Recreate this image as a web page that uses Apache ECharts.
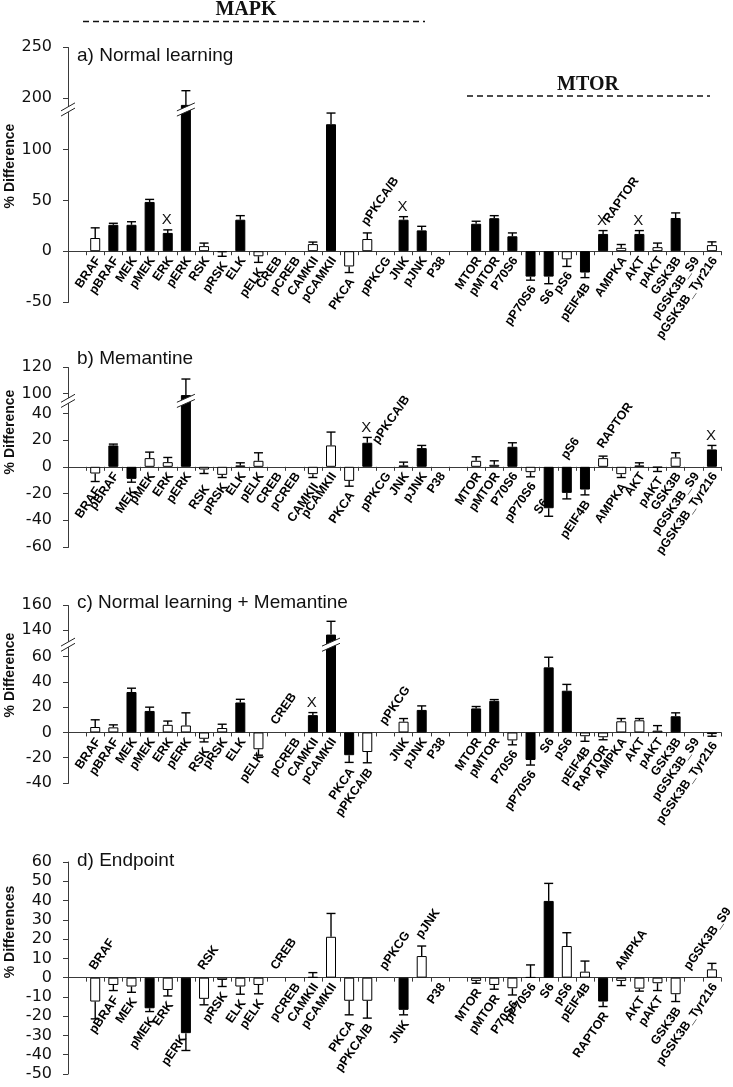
<!DOCTYPE html>
<html><head><meta charset="utf-8">
<script src="https://cdn.jsdelivr.net/npm/echarts@6.0.0/dist/echarts.min.js"></script>
<style>html,body{margin:0;padding:0;background:#fff}#chart{width:733px;height:1087px}</style>
</head><body><div id="chart"></div>
<script>
// ---------------- DATA ----------------
const categories = [' ', 'BRAF','pBRAF','MEK','pMEK','ERK','pERK','RSK','pRSK','ELK','pELK','CREB','pCREB','CAMKII','pCAMKII','PKCA','pPKCA/B','pPKCG','JNK','pJNK','P38','  ',
  'MTOR','pMTOR','P70S6','pP70S6','S6','pS6','pEIF4B','RAPTOR','AMPKA','AKT','pAKT','GSK3B','pGSK3B_S9','pGSK3B_Tyr216'];

// a) Normal learning
const aValues = [null, 13, 26, 26, 48.5, 18, 193, 5, -1, 31, -5, null, null, 7, 125, -15, 12, null, 31, 20.5, null, null, 27, 32.5, 14.7, -25, -25, -8, -21, 17, 3.3, 17, 4, 32.7, null, 6];
const aErrors = [null, 10, 1.5, 3, 2.5, 3, 14, 3, 4, 4, 6, null, null, 2, 11, 6, 6, null, 3, 4, null, null, 2.5, 2.5, 3.3, 3.5, 7, 7, 5, 3.3, 3.3, 3.3, 4, 5, null, 3.2];
const aSignificant = [0,0,1,1,1,1,1,0,0,1,0,0,0,0,1,0,0,0,1,1,0,0,1,1,1,1,1,0,1,1,0,1,0,1,0,0];
const aMarked = ['ERK','JNK','RAPTOR','AKT'];
const aTickLabels = [-50, 0, 50, 100, 200, 250];
const aBreak = [137, 191];

// b) Memantine
const bValues = [null, -5, 16, -9, 6.5, 3.5, 99, -2, -6, 1, 4.5, null, null, -5.5, 16, -10.5, 18, null, 1, 14, null, null, 4.5, 1.5, 15, -4, -31, -19.5, -17, 6.5, -5.5, 1, -0.5, 7, null, 13];
const bErrors = [null, 6, 1, 2.5, 4.5, 3.5, 12, 3, 2, 2, 6, null, null, 2.5, 10, 4, 4, null, 2.5, 2, null, null, 3, 3, 3, 3.5, 6, 4.5, 4, 1.5, 2.5, 2, 3, 3.5, null, 3];
const bSignificant = [0,0,1,1,0,0,1,0,0,0,0,0,0,0,0,0,1,0,0,1,0,0,0,0,1,0,1,1,1,0,0,0,0,0,0,1];
const bMarked = ['pPKCA/B','pGSK3B_Tyr216'];
const bTickLabels = [-60, -40, -20, 0, 20, 40, 100, 120];
const bBreak = [48, 96];

// c) Normal learning + Memantine
const cValues = [null, 4.3, 4, 32, 17, 6, 5.5, -5, 3.5, 23.7, -13.3, null, null, 13.7, 136.6, -18, -15.5, null, 8.5, 17.8, null, null, 19, 25, -6.3, -21.8, 51.5, 33, -3, -3.8, 8.8, 9.6, 1.4, 12.8, null, -1.3];
const cErrors = [null, 5.7, 2, 3, 3, 3, 10, 2.5, 3, 2.5, 4.7, null, null, 2, 10.5, 5.7, 8.5, null, 2.5, 3.2, null, null, 1.5, 1, 3.5, 4, 8, 5, 4, 2, 2.2, 1.4, 4, 2.7, null, 1.7];
const cSignificant = [0,0,0,1,1,0,0,0,0,1,0,0,0,1,1,1,0,0,0,1,0,0,1,1,0,1,1,1,0,0,0,0,0,1,0,0];
const cMarked = ['CAMKII'];
const cTickLabels = [-40, -20, 0, 20, 40, 60, 140, 160];
const cBreak = [68, 130];

// d) Endpoint
const dValues = [null, -12.4, -3.8, -4.6, -15.9, -6.4, -28.8, -11, -1.2, -4.6, -3.8, null, null, 0.3, 21.2, -12, -12, null, -16.7, 11.2, null, null, -1.7, -3.8, -5.5, 0.2, 39.8, 16.4, 3.1, -12.4, -1.7, -5.7, -2.9, -8.6, null, 4.3];
const dErrors = [null, 9, 2.9, 3, 1.7, 3.1, 9, 3.1, 3.4, 4, 4.6, null, null, 2.3, 12.1, 7.3, 9, null, 2.6, 5.2, null, null, 1.2, 2.2, 3.5, 6.4, 9.1, 6.9, 5.5, 2.6, 2.4, 1.3, 3.8, 3.8, null, 3.1];
const dSignificant = [0,0,0,0,1,0,1,0,0,0,0,0,0,0,0,0,0,0,1,0,0,0,0,0,0,0,1,0,0,1,0,0,0,0,0,0];
const dMarked = [];
const dTickLabels = [-50, -40, -30, -20, -10, 0, 10, 20, 30, 40, 50, 60];
const dBreak = null;

// ---------------- LAYOUT ----------------
const aLabelAbove = ['pPKCA/B','RAPTOR'];
const bLabelAbove = ['pPKCA/B','pS6','RAPTOR'];
const cLabelAbove = ['CREB','pPKCG'];
const dLabelAbove = ['BRAF','RSK','CREB','pPKCG','pJNK','AMPKA','pGSK3B_S9'];
const aLabelNudge = {RAPTOR: [6, 0]};
const bLabelNudge = {'pPKCA/B': [11, 14], S6: [-6, -23], RSK: [0, 6]};
const cLabelNudge = {pELK: [0, -8]};
const dLabelNudge = {pERK: [-5, -21], pGSK3B_S9: [-4, 0]};

const panels = [
  {values:aValues, errors:aErrors, sig:aSignificant, marked:aMarked, ticks:aTickLabels, brk:aBreak, above:aLabelAbove, nudge:aLabelNudge,
   top:47, height:255, title:'a) Normal learning', titleY:57, yName:'% Difference', yNameY:166},
  {values:bValues, errors:bErrors, sig:bSignificant, marked:bMarked, ticks:bTickLabels, brk:bBreak, above:bLabelAbove, nudge:bLabelNudge,
   top:367, height:180, title:'b) Memantine', titleY:360, yName:'% Difference', yNameY:432},
  {values:cValues, errors:cErrors, sig:cSignificant, marked:cMarked, ticks:cTickLabels, brk:cBreak, above:cLabelAbove, nudge:cLabelNudge,
   top:605, height:178, title:'c) Normal learning + Memantine', titleY:604, yName:'% Difference', yNameY:675},
  {values:dValues, errors:dErrors, sig:dSignificant, marked:dMarked, ticks:dTickLabels, brk:dBreak, above:dLabelAbove, nudge:dLabelNudge,
   top:862, height:212, title:'d) Endpoint', titleY:862, yName:'% Differences', yNameY:932}
];

const SANS = '"Liberation Sans", Arial, sans-serif';
const AXIS_COLOR = '#3a3a3a';
const LABEL_ROT = 55 * Math.PI / 180;

function renderErr(params, api) {
  const i = api.value(0), v = api.value(1), e = api.value(2);
  const end = v >= 0 ? v + e : v - e;
  const p0 = api.coord([i, v]), p1 = api.coord([i, end]);
  const cap = 4.5;
  return {type:'group', children:[
    {type:'line', shape:{x1:p0[0], y1:p0[1], x2:p1[0], y2:p1[1]}, style:{stroke:'#000', lineWidth:1.4}},
    {type:'line', shape:{x1:p1[0]-cap, y1:p1[1], x2:p1[0]+cap, y2:p1[1]}, style:{stroke:'#000', lineWidth:1.4}}
  ]};
}
function renderMark(params, api) {
  const i = api.value(0), v = api.value(1), e = api.value(2);
  const p = api.coord([i, v + e]);
  return {type:'text', x:p[0] - 1, y:p[1] - 10, style:{text:'X', font:'15px ' + SANS, fill:'#111',
    align:'center', verticalAlign:'middle', textAlign:'center', textVerticalAlign:'middle'}};
}
function renderLabel(params, api) {
  const i = api.value(0), v = api.value(1), e = api.value(2), above = api.value(3);
  const dx = api.value(4), dy = api.value(5);
  let ref;
  if (above) ref = v > 0 ? v + e : 0; else ref = v < 0 ? v - e : 0;
  const p = api.coord([i, ref]);
  const al = above ? 'left' : 'right';
  return {type:'text', x:p[0] + (above ? -3 : 3) + dx, y:p[1] + (above ? -9 : 7) + dy, rotation:LABEL_ROT,
    style:{text:categories[i], font:'bold 12.5px ' + SANS, fill:'#000',
      align:al, verticalAlign:'middle', textAlign:al, textVerticalAlign:'middle'}};
}
function renderBreak(params, api) {
  const i = api.value(0), s = api.value(1), t = api.value(2), isAxis = api.value(3);
  const ys = api.coord([i, s])[1], yt = api.coord([i, t])[1];
  const ym = (ys + yt) / 2;
  const cx = isAxis ? params.coordSys.x : api.coord([i, 0])[0];
  const hw = isAxis ? 7 : 9, rise = 4, half = 2.6;
  const l1 = [[cx-hw, ym+half+rise], [cx+hw, ym+half-rise]];
  const l2 = [[cx-hw, ym-half+rise], [cx+hw, ym-half-rise]];
  return {type:'group', children:[
    {type:'polygon', shape:{points:[l1[0], l1[1], l2[1], l2[0]]}, style:{fill:'#fff'}},
    {type:'line', shape:{x1:l1[0][0], y1:l1[0][1], x2:l1[1][0], y2:l1[1][1]}, style:{stroke:'#222', lineWidth:1}},
    {type:'line', shape:{x1:l2[0][0], y1:l2[0][1], x2:l2[1][0], y2:l2[1][1]}, style:{stroke:'#222', lineWidth:1}}
  ]};
}

const option = {animation:false, backgroundColor:'#fff', grid:[], xAxis:[], yAxis:[], series:[], graphic:[]};

panels.forEach((p, gi) => {
  const min = p.ticks[0], max = p.ticks[p.ticks.length - 1];
  const interval = p.ticks[1] - p.ticks[0];
  option.grid.push({left:68, top:p.top, width:653, height:p.height, containLabel:false});
  option.xAxis.push({type:'category', gridIndex:gi, data:categories, boundaryGap:true,
    axisLine:{onZero:true, lineStyle:{color:AXIS_COLOR, width:1}},
    axisTick:{show:true, length:4, interval:0, alignWithLabel:false, lineStyle:{color:AXIS_COLOR}},
    axisLabel:{show:false}, splitLine:{show:false}});
  const y = {type:'value', gridIndex:gi, min:min, max:max, interval:interval,
    axisLine:{show:true, lineStyle:{color:AXIS_COLOR, width:1}},
    axisTick:{show:true, length:5, customValues:p.ticks, lineStyle:{color:AXIS_COLOR}},
    axisLabel:{color:'#111', fontFamily:'"DejaVu Sans"', fontSize:16, margin:16, customValues:p.ticks,
      formatter: v => String(Math.round(v))},
    splitLine:{show:false}};
  if (p.brk) {
    y.breaks = [{start:p.brk[0], end:p.brk[1], gap:'2%'}];
    y.breakArea = {show:false};
  }
  option.yAxis.push(y);

  option.series.push({type:'bar', xAxisIndex:gi, yAxisIndex:gi, barWidth:10, silent:true, z:2,
    itemStyle:{borderColor:'#000', borderWidth:1},
    data:p.values.map((v, i) => v == null ? '-' : {value:v, itemStyle:{color:p.sig[i] ? '#000' : '#fff'}})});
  option.series.push({type:'custom', xAxisIndex:gi, yAxisIndex:gi, z:3, silent:true, clip:false,
    encode:{x:0, y:1}, renderItem:renderErr,
    data:p.values.map((v, i) => v == null ? null : [i, v, p.errors[i]]).filter(Boolean)});
  if (p.marked.length) option.series.push({type:'custom', xAxisIndex:gi, yAxisIndex:gi, z:4, silent:true, clip:false,
    encode:{x:0, y:1}, renderItem:renderMark,
    data:p.marked.map(n => { const i = categories.indexOf(n); return [i, p.values[i], p.errors[i]]; })});
  option.series.push({type:'custom', xAxisIndex:gi, yAxisIndex:gi, z:4, silent:true, clip:false,
    encode:{x:0, y:1}, renderItem:renderLabel,
    data:categories.map((c, i) => {
      if (!c.trim()) return null;
      const n = p.nudge[c] || [0, 0];
      return [i, p.values[i] == null ? 0 : p.values[i], p.errors[i] == null ? 0 : p.errors[i], p.above.includes(c) ? 1 : 0, n[0], n[1]];
    }).filter(Boolean)});
  if (p.brk) {
    const bd = [[0, p.brk[0], p.brk[1], 1]];
    p.values.forEach((v, i) => { if (v != null && v > p.brk[0]) bd.push([i, p.brk[0], p.brk[1], 0]); });
    option.series.push({type:'custom', xAxisIndex:gi, yAxisIndex:gi, z:6, silent:true, clip:false,
      encode:{x:0, y:1}, renderItem:renderBreak, data:bd});
  }
  option.graphic.push({type:'text', left:77, top:p.titleY - 11, z:10,
    style:{text:p.title, font:'19px ' + SANS, fill:'#111'}});
  option.graphic.push({type:'text', x:10, y:p.yNameY, rotation:Math.PI/2, z:10,
    style:{text:p.yName, font:'bold 14px ' + SANS, fill:'#111', textAlign:'center', textVerticalAlign:'middle', align:'center', verticalAlign:'middle'}});
});

// section headers
option.graphic.push({type:'text', x:246, y:10, z:10, style:{text:'MAPK', font:'bold 20px "Liberation Serif", "Times New Roman", serif', fill:'#111', textAlign:'center', textVerticalAlign:'middle', align:'center', verticalAlign:'middle'}});
option.graphic.push({type:'line', z:10, shape:{x1:83, y1:21.5, x2:425, y2:21.5}, style:{stroke:'#111', lineWidth:1.5, lineDash:[6,4]}});
option.graphic.push({type:'text', x:588, y:85, z:10, style:{text:'MTOR', font:'bold 20px "Liberation Serif", "Times New Roman", serif', fill:'#111', textAlign:'center', textVerticalAlign:'middle', align:'center', verticalAlign:'middle'}});
option.graphic.push({type:'line', z:10, shape:{x1:467, y1:96, x2:710, y2:96}, style:{stroke:'#111', lineWidth:1.5, lineDash:[6,4]}});

const chart = echarts.init(document.getElementById('chart'), null, {renderer:'canvas'});
chart.setOption(option);
</script></body></html>
